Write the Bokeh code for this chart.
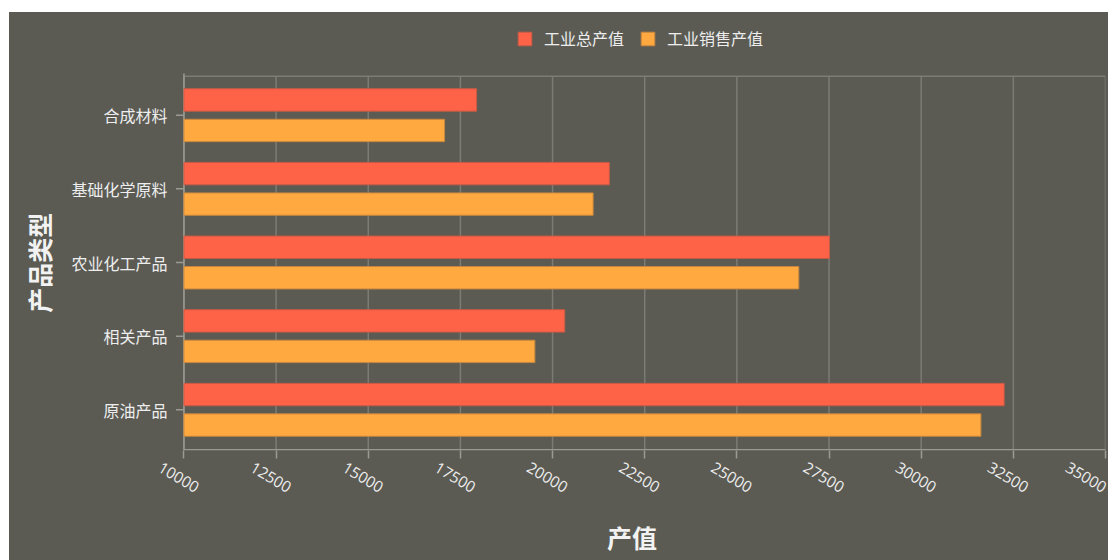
from bokeh.plotting import figure
from bokeh.models import (Range1d, FixedTicker, Legend, LegendItem, LinearAxis,
                          ColumnDataSource)
from bokeh.transform import dodge
from bokeh.embed import file_html
from bokeh.resources import INLINE

# ---- data ----
categories = ["合成材料", "基础化学原料", "农业化工产品", "相关产品", "原油产品"]
total_output = [17940, 21540, 27510, 20330, 32250]   # 工业总产值
sales_output = [17070, 21100, 26680, 19520, 31620]   # 工业销售产值
series_names = ["工业总产值", "工业销售产值"]
x_ticks = [10000, 12500, 15000, 17500, 20000, 22500, 25000, 27500, 30000, 32500, 35000]
x_title = "产值"
y_title = "产品类型"

BG = "#5b5b54"
RED = "#ff6347"
ORANGE = "#ffa940"
TXT = "#eeeeee"
GRID = "#7c7c75"
AXIS = "#9a9a92"
CJK = "Noto Sans CJK SC"

# ---- layout constants ----
W, H = 1099, 548
BORDER_L, BORDER_R, BORDER_B = 149, 3, 110
X_START = 9310                      # room left of the axis for the rotated labels
FRAME_W = W - BORDER_L - BORDER_R
PX_PER_UNIT = FRAME_W / (x_ticks[-1] - X_START)
TICK_LEN = 8 / PX_PER_UNIT

n = len(categories)
ypos = [n - 1 - i for i in range(n)]          # top category drawn highest
Y_START, Y_END = -0.5526, 5.3945              # extra room above for the legend
Y_TOP = 4.53                                  # top edge of the plotting grid
Y_AXIS_TOP = 4.566

src = ColumnDataSource(dict(y=ypos, cat=categories, total=total_output, sales=sales_output))

p = figure(width=W, height=H,
           y_range=Range1d(Y_START, Y_END),
           x_range=Range1d(X_START, x_ticks[-1]),
           output_backend="svg", toolbar_location=None,
           min_border_left=BORDER_L, min_border_right=BORDER_R,
           min_border_top=0, min_border_bottom=BORDER_B)
p.margin = (12, 0, 0, 9)
p.styles = {"background-color": BG}
p.background_fill_color = BG
p.border_fill_color = None
p.outline_line_color = None
p.grid.grid_line_color = None

# grid lines limited to the plotting area + top border
p.segment(x0=x_ticks, y0=[Y_START] * len(x_ticks), x1=x_ticks, y1=[Y_TOP] * len(x_ticks),
          line_color=GRID, line_width=1.5)
p.segment(x0=[x_ticks[0]], y0=[Y_TOP], x1=[x_ticks[-1]], y1=[Y_TOP],
          line_color=GRID, line_width=1.5)
# value axis line and category axis line + ticks
p.segment(x0=[x_ticks[0]], y0=[Y_START + 0.01], x1=[x_ticks[-1]], y1=[Y_START + 0.01],
          line_color=AXIS, line_width=1.5)
p.segment(x0=[x_ticks[0]], y0=[Y_START], x1=[x_ticks[0]], y1=[Y_AXIS_TOP],
          line_color=AXIS, line_width=1.5)
p.segment(x0=[x_ticks[0] - TICK_LEN] * n, y0=ypos, x1=[x_ticks[0]] * n, y1=ypos,
          line_color=AXIS, line_width=1.5)

r1 = p.hbar(y=dodge("y", 0.207), left=x_ticks[0], right="total", height=0.304,
            source=src, fill_color=RED, line_color="#c85a45", line_width=1)
r2 = p.hbar(y=dodge("y", -0.207), left=x_ticks[0], right="sales", height=0.304,
            source=src, fill_color=ORANGE, line_color="#c8873d", line_width=1)

# main x axis: ticks only
xa = p.xaxis[0]
xa.ticker = FixedTicker(ticks=x_ticks)
xa.axis_line_color = None
xa.major_tick_line_color = AXIS
xa.major_tick_line_width = 1.5
xa.major_tick_out = 8
xa.major_tick_in = 0
xa.minor_tick_line_color = None
xa.major_label_text_font_size = "1px"
xa.major_label_text_color = None
xa.major_label_standoff = 0

# label axis: rotated labels centred under the ticks
SHIFT = 650
lab_ticks = [v - SHIFT for v in x_ticks]
lab_axis = LinearAxis(ticker=FixedTicker(ticks=lab_ticks),
                      major_label_overrides={t: str(v) for t, v in zip(lab_ticks, x_ticks)},
                      axis_line_color=None, major_tick_line_color=None,
                      minor_tick_line_color=None, major_tick_out=0, major_tick_in=0,
                      major_label_orientation=-0.54,
                      major_label_text_font="Open Sans",
                      major_label_text_font_size="15.5px",
                      major_label_text_color=TXT,
                      major_label_standoff=7,
                      axis_label=x_title, axis_label_standoff=17,
                      axis_label_text_color="#f2f2f2", axis_label_text_font=CJK,
                      axis_label_text_font_style="bold", axis_label_text_font_size="25px")
p.add_layout(lab_axis, "below")

ya = p.yaxis[0]
ya.ticker = FixedTicker(ticks=ypos)
ya.major_label_overrides = {y: c for y, c in zip(ypos, categories)}
ya.axis_line_color = None
ya.major_tick_line_color = None
ya.minor_tick_line_color = None
ya.major_tick_out = 0
ya.major_tick_in = 0
ya.major_label_standoff = -9
ya.major_label_text_font = CJK
ya.major_label_text_font_size = "16px"
ya.major_label_text_color = TXT
ya.axis_label = y_title + "\u3000\u3000\u2002"   # centre the title on the plotting area
ya.axis_label_standoff = 11
ya.axis_label_text_color = "#f2f2f2"
ya.axis_label_text_font = CJK
ya.axis_label_text_font_style = "bold"
ya.axis_label_text_font_size = "25px"

legend = Legend(items=[LegendItem(label=series_names[0], renderers=[r1]),
                       LegendItem(label=series_names[1], renderers=[r2])],
                orientation="horizontal", location=(358, 400),
                glyph_width=17, glyph_height=17, label_height=17,
                label_standoff=11, spacing=15, padding=0, margin=0,
                border_line_color=None, background_fill_alpha=0,
                label_text_color=TXT, label_text_font=CJK,
                label_text_font_size="16px")
p.add_layout(legend, "center")

open("out.html", "w").write(file_html(p, INLINE))
